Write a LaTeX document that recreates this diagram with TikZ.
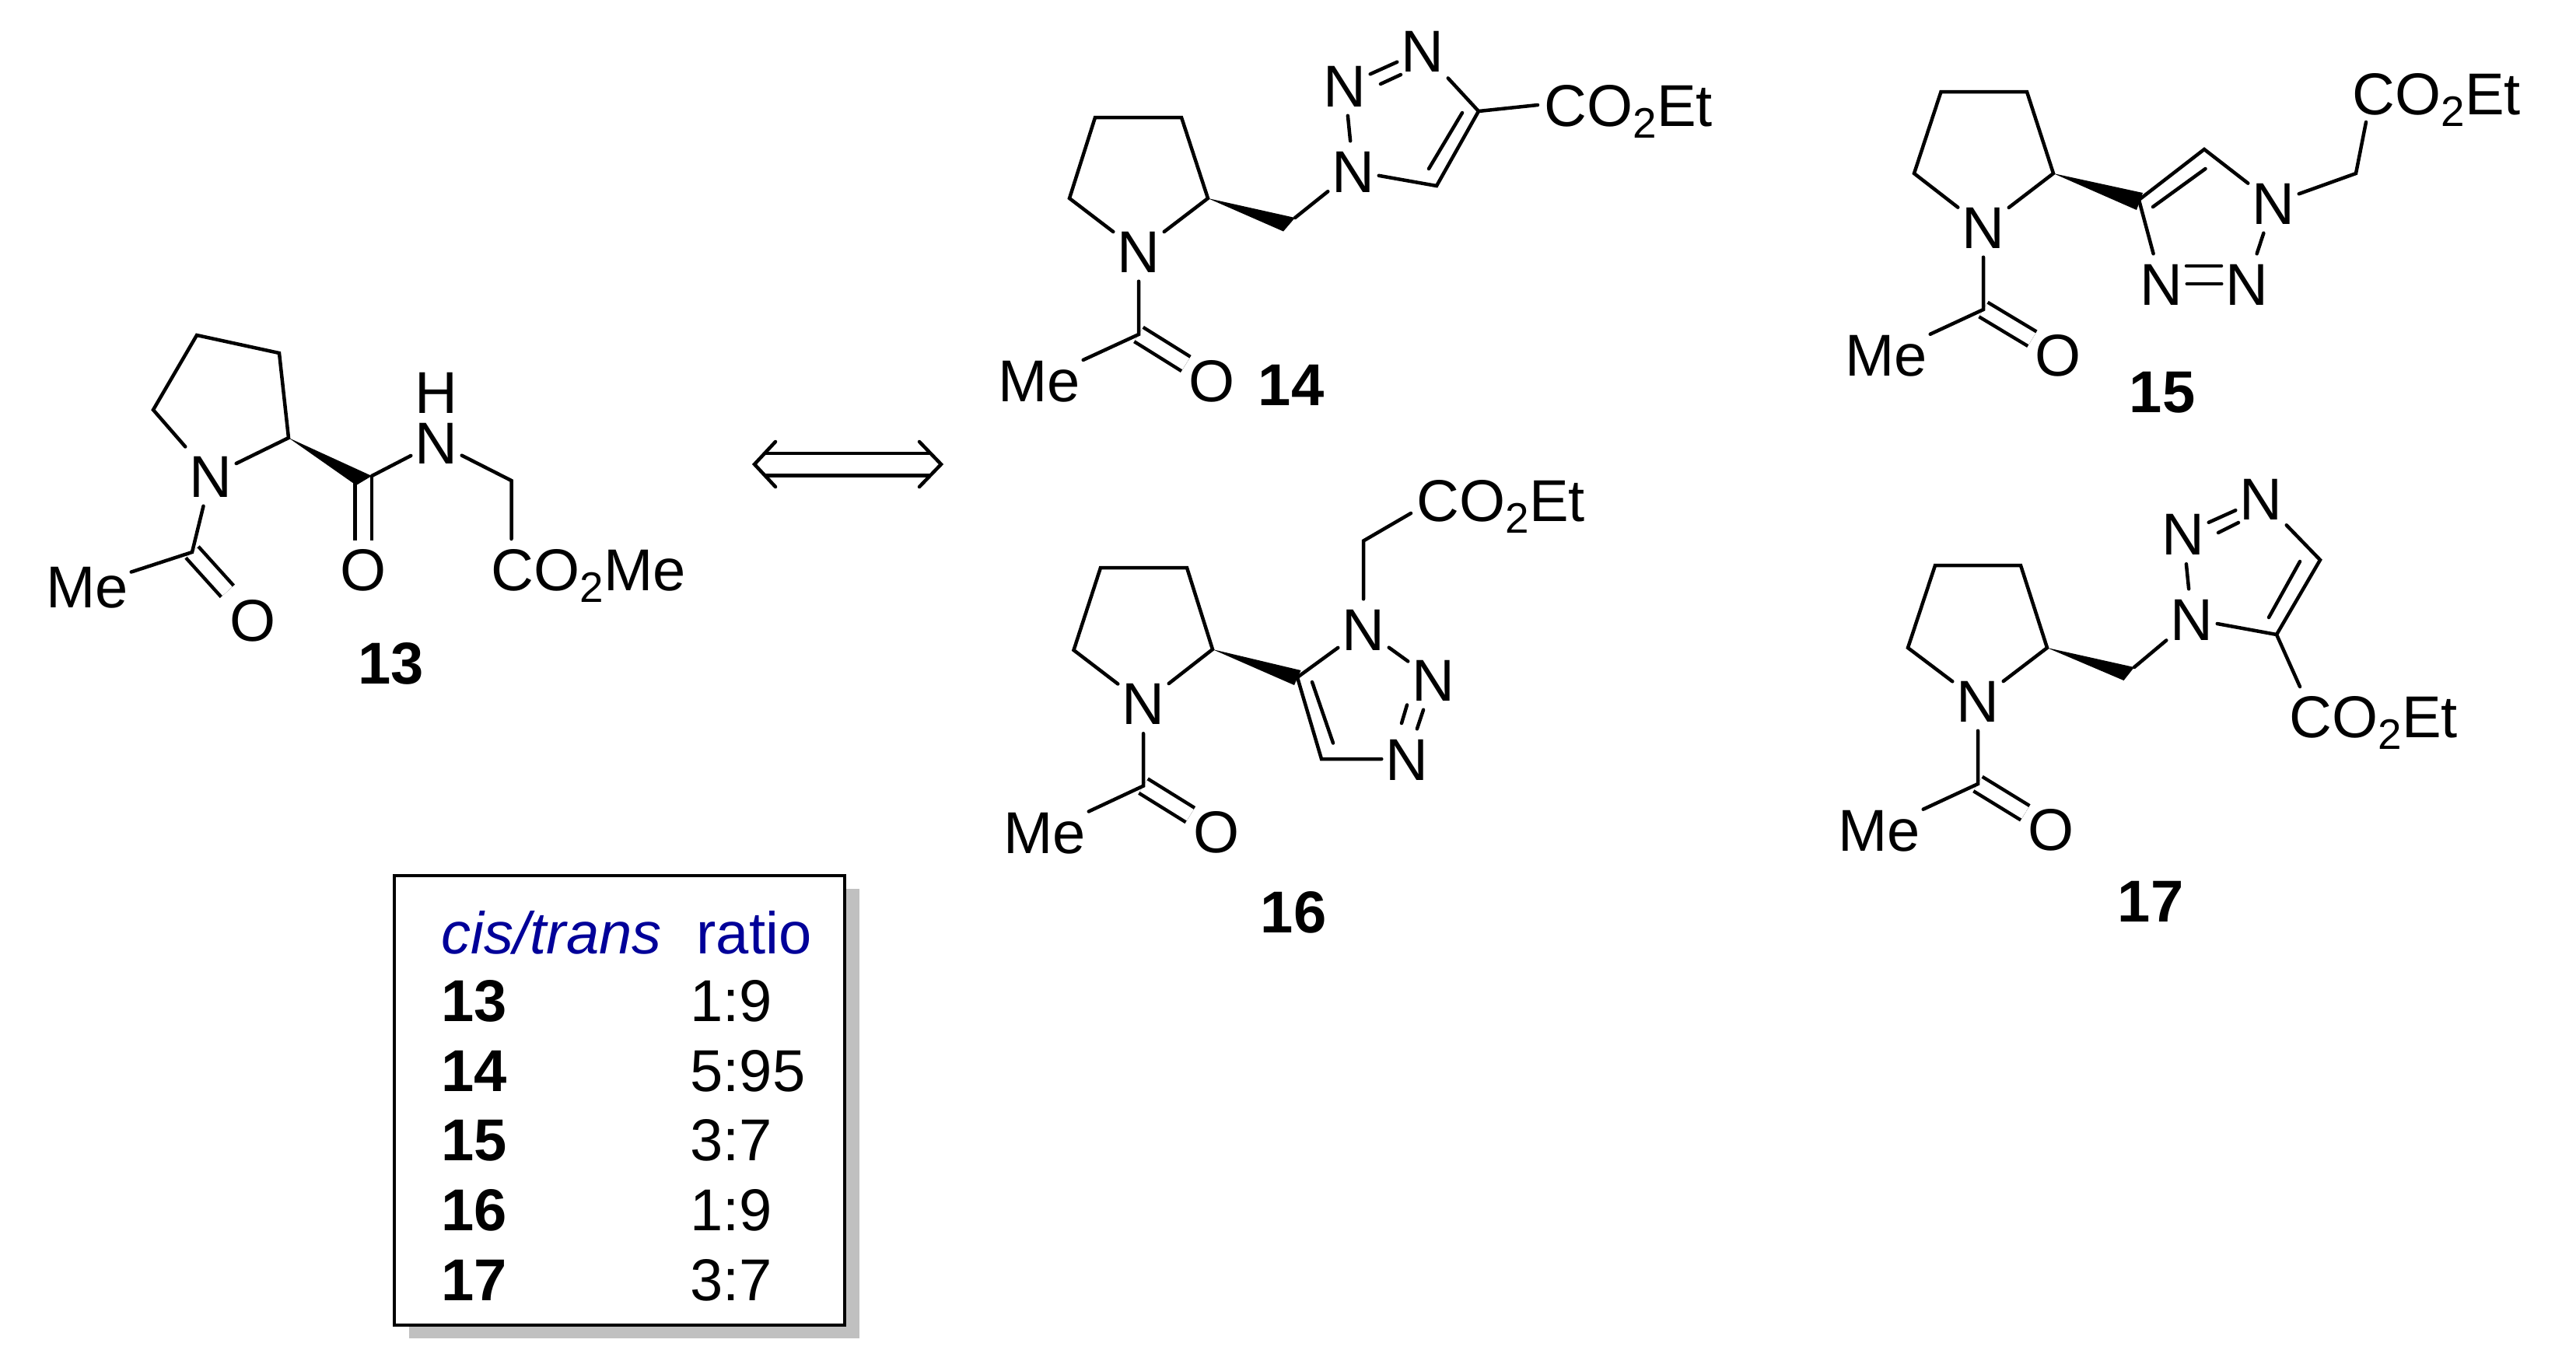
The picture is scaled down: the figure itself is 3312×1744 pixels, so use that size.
\documentclass[tikz,border=0pt]{standalone}
\usepackage{fontspec}
\setmainfont{Liberation Sans}
\usetikzlibrary{shadows}
\definecolor{headblue}{RGB}{0,0,153}
\definecolor{shadowgray}{RGB}{192,192,192}
\newcommand{\chemfont}{\fontsize{21.6pt}{24pt}\selectfont}
\newcommand{\cotwo}{CO\smash{\raisebox{-.15cm}{\fontsize{15.6pt}{16pt}\selectfont 2}}}

\begin{document}
\begin{tikzpicture}
[x=.01cm, y=-.01cm,
 bond/.style={line width=.045cm, line cap=round, line join=miter},
 dblbond/.style={bond, line cap=butt, double, double distance=.17cm},
 atom/.style={font=\chemfont, inner sep=0pt, minimum width=.64cm, minimum height=.76cm, text height=.54cm, text depth=0pt},
 oxy/.style={atom, minimum width=.66cm, minimum height=.72cm},
 methyl/.style={atom, minimum width=1.12cm},
 grp/.style={font=\chemfont, inner sep=0pt, anchor=base west},
 num/.style={font=\chemfont\bfseries, inner sep=0pt, text height=.54cm, text depth=0pt},
 tablebox/.style={draw=black, fill=white, line width=.045cm, minimum width=5.79cm, minimum height=5.78cm,
   drop shadow={shadow xshift=.19cm, shadow yshift=-.17cm, fill=shadowgray, opacity=1}},
 cell/.style={font=\chemfont, inner sep=0pt, anchor=base west, text height=.55cm, text depth=0pt},
 cellnum/.style={cell, font=\chemfont\bfseries},
 cellhead/.style={cell, text=headblue}]
\useasboundingbox (0,0) rectangle (3312,1744);

\node[atom, minimum height=.58cm] (n13h) at (561,569) {N};
\node[atom] (n13) at (271,612) {N};
\node[atom, minimum height=.56cm] (h13) at (561,504.5) {H};
\node[oxy] (o13) at (325.5,797) {O};
\node[oxy] (oa13) at (467,732) {O};
\node[methyl] (me13) at (112,754) {Me};
\node[grp] (co13) at (631,759) {\cotwo Me};
\node[num] (lb13) at (503,852) {13};
\coordinate (ra13) at (197,527);
\coordinate (rb13) at (253,431);
\coordinate (rc13) at (359,454);
\coordinate (rd13) at (371,563);
\coordinate (ac13) at (247,710);
\coordinate (cc13) at (467,613);
\coordinate (wa13) at (478,612);
\coordinate (wb13) at (458,624);
\coordinate (ch13) at (657.5,618);
\coordinate (e13) at (657.5,693);
\draw[dblbond] (ac13) -- (o13);
\draw[dblbond] (cc13) -- (oa13);
\draw[bond] (n13) -- (ra13) -- (rb13) -- (rc13) -- (rd13) -- (n13);
\draw[bond] (n13) -- (ac13) -- (me13);
\fill (rd13) -- (wa13) -- (wb13) -- cycle;
\draw[bond] (wa13) -- (n13h);
\draw[bond] (n13h) -- (ch13) -- (e13);

\coordinate (arrl) at (970,597);
\coordinate (arrr) at (1210,597);
\draw[bond, line cap=butt, double, double distance=.24cm, shorten <=.14cm, shorten >=.14cm] (arrl) -- (arrr);
\draw[bond] ([shift={(27,-29)}]arrl) -- (arrl) -- ([shift={(27,29)}]arrl);
\draw[bond] ([shift={(-28,-29)}]arrr) -- (arrr) -- ([shift={(-28,29)}]arrr);

\node[atom] (n14) at (1464,323) {N};
\node[atom] (na14) at (1740,220) {N};
\node[atom] (nb14) at (1729,110) {N};
\node[atom] (nc14) at (1829,65) {N};
\node[oxy] (o14) at (1558.5,489) {O};
\node[methyl] (me14) at (1336,489) {Me};
\node[grp] (co14) at (1985,162.5) {\cotwo Et};
\node[num] (lb14) at (1660,494) {14};
\coordinate (ra14) at (1375,255);
\coordinate (rb14) at (1408,151);
\coordinate (rc14) at (1519,151);
\coordinate (rd14) at (1553,255);
\coordinate (ac14) at (1464,430);
\coordinate (wa14) at (1665,280);
\coordinate (wb14) at (1650,297.5);
\coordinate (td14) at (1901,143);
\coordinate (te14) at (1847,239);
\coordinate (ia14) at (1880,145);
\coordinate (ib14) at (1837,217);
\coordinate (ic14) at (1775,108);
\coordinate (id14) at (1801,96);
\coordinate (e14) at (1977,135);
\draw[dblbond] (ac14) -- (o14);
\draw[bond] (n14) -- (ra14) -- (rb14) -- (rc14) -- (rd14) -- (n14);
\draw[bond] (n14) -- (ac14) -- (me14);
\fill (rd14) -- (wa14) -- (wb14) -- cycle;
\draw[bond] (wa14) -- (na14);
\draw[bond] (na14) -- (nb14);
\draw[bond] (nb14) -- (nc14);
\draw[bond] (ic14) -- (id14);
\draw[bond] (nc14) -- (td14) -- (te14) -- (na14);
\draw[bond] (ia14) -- (ib14);
\draw[bond] (td14) -- (e14);

\node[atom] (n15) at (2550,292) {N};
\node[atom] (na15) at (2923,261) {N};
\node[atom] (nb15) at (2889,365) {N};
\node[atom] (nc15) at (2779,365) {N};
\node[oxy] (o15) at (2646.5,456) {O};
\node[methyl] (me15) at (2425,456) {Me};
\node[grp] (co15) at (3024,147) {\cotwo Et};
\node[num] (lb15) at (2780,503) {15};
\coordinate (ra15) at (2461,223);
\coordinate (rb15) at (2495.5,118);
\coordinate (rc15) at (2606,118);
\coordinate (rd15) at (2640,223);
\coordinate (ac15) at (2550,398);
\coordinate (wa15) at (2755,248);
\coordinate (wb15) at (2747,270);
\coordinate (td15) at (2750,257);
\coordinate (te15) at (2834,192);
\coordinate (ia15) at (2768,266);
\coordinate (ib15) at (2835.5,217);
\coordinate (ic15) at (2811,342);
\coordinate (id15) at (2856,342);
\coordinate (ch15) at (3029,223);
\coordinate (e15) at (3042,157);
\draw[dblbond] (ac15) -- (o15);
\draw[bond] (n15) -- (ra15) -- (rb15) -- (rc15) -- (rd15) -- (n15);
\draw[bond] (n15) -- (ac15) -- (me15);
\fill (rd15) -- (wa15) -- (wb15) -- cycle;
\draw[bond] (nc15) -- (td15) -- (te15) -- (na15);
\draw[bond] (na15) -- (nb15);
\draw[bond] (nb15) -- (nc15);
\draw[bond] (ic15) -- (id15);
\draw[bond] (ia15) -- (ib15);
\draw[bond] (na15) -- (ch15) -- (e15);

\node[atom] (n16) at (1470,904.5) {N};
\node[atom] (na16) at (1753,809) {N};
\node[atom] (nb16) at (1843,874) {N};
\node[atom] (nc16) at (1809,976) {N};
\node[oxy] (o16) at (1564,1069) {O};
\node[methyl] (me16) at (1343,1070) {Me};
\node[grp] (co16) at (1821,670) {\cotwo Et};
\node[num] (lb16) at (1663,1172) {16};
\coordinate (ra16) at (1380.5,836);
\coordinate (rb16) at (1415,730);
\coordinate (rc16) at (1526,730);
\coordinate (rd16) at (1559,835);
\coordinate (ac16) at (1470,1010.6);
\coordinate (wa16) at (1672.5,862);
\coordinate (wb16) at (1664,881);
\coordinate (td16) at (1668,871);
\coordinate (te16) at (1699,976);
\coordinate (ia16) at (1714,955.5);
\coordinate (ib16) at (1687,877);
\coordinate (ic16) at (1809,906.5);
\coordinate (id16) at (1802,930);
\coordinate (ch16) at (1753,695.5);
\coordinate (e16) at (1814,660);
\draw[dblbond] (ac16) -- (o16);
\draw[bond] (n16) -- (ra16) -- (rb16) -- (rc16) -- (rd16) -- (n16);
\draw[bond] (n16) -- (ac16) -- (me16);
\fill (rd16) -- (wa16) -- (wb16) -- cycle;
\draw[bond] (na16) -- (td16) -- (te16) -- (nc16);
\draw[bond] (na16) -- (nb16);
\draw[bond] (nb16) -- (nc16);
\draw[bond] (ic16) -- (id16);
\draw[bond] (ia16) -- (ib16);
\draw[bond] (na16) -- (ch16) -- (e16);

\node[atom] (n17) at (2543,901) {N};
\node[atom] (na17) at (2818,796) {N};
\node[atom] (nb17) at (2807,686.5) {N};
\node[atom] (nc17) at (2907,641.5) {N};
\node[oxy] (o17) at (2637.5,1066) {O};
\node[methyl] (me17) at (2416,1067) {Me};
\node[grp] (co17) at (2943,948) {\cotwo Et};
\node[num] (lb17) at (2765,1158) {17};
\coordinate (ra17) at (2453,833);
\coordinate (rb17) at (2488,727);
\coordinate (rc17) at (2598,727);
\coordinate (rd17) at (2632,833);
\coordinate (ac17) at (2543,1008);
\coordinate (wa17) at (2744,858);
\coordinate (wb17) at (2730.5,875);
\coordinate (td17) at (2983,720);
\coordinate (te17) at (2927,816);
\coordinate (ia17) at (2957,722);
\coordinate (ib17) at (2917,794);
\coordinate (ic17) at (2852,685);
\coordinate (id17) at (2878,672);
\coordinate (e17) at (2957,883);
\draw[dblbond] (ac17) -- (o17);
\draw[bond] (n17) -- (ra17) -- (rb17) -- (rc17) -- (rd17) -- (n17);
\draw[bond] (n17) -- (ac17) -- (me17);
\fill (rd17) -- (wa17) -- (wb17) -- cycle;
\draw[bond] (wa17) -- (na17);
\draw[bond] (na17) -- (nb17);
\draw[bond] (nb17) -- (nc17);
\draw[bond] (ic17) -- (id17);
\draw[bond] (nc17) -- (td17) -- (te17) -- (na17);
\draw[bond] (ia17) -- (ib17);
\draw[bond] (te17) -- (e17);

\node[tablebox] (tblbox) at (796.5,1415) {};
\matrix [anchor=north west, inner sep=0pt, row sep=.345cm, column sep=.37cm, ampersand replacement=\&] (tbl) at (567,1171)
{\node[cellhead] (hcis) {\textit{cis/trans}}; \& \node[cellhead, xshift=.08cm] (hratio) {ratio}; \\[-.025cm]
\node[cellnum] (t13) {13}; \& \node[cell] (v13) {1:9}; \\
\node[cellnum] (t14) {14}; \& \node[cell] (v14) {5:95}; \\
\node[cellnum] (t15) {15}; \& \node[cell] (v15) {3:7}; \\
\node[cellnum] (t16) {16}; \& \node[cell] (v16) {1:9}; \\
\node[cellnum] (t17) {17}; \& \node[cell] (v17) {3:7}; \\
};
\end{tikzpicture}
\end{document}
